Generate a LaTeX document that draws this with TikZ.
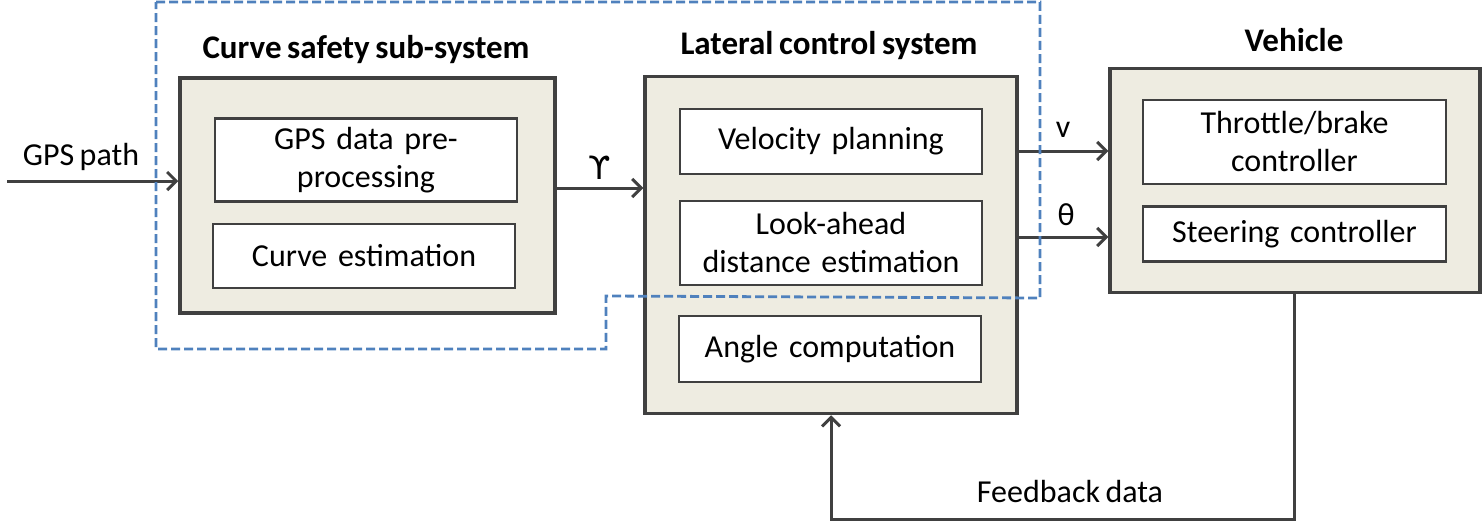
\documentclass[tikz,border=0pt]{standalone}
\usepackage{fontspec}
\setmainfont[WordSpace=0.75]{Carlito}
\newfontfamily\dejavu{DejaVu Sans}
\usetikzlibrary{arrows.meta}
\definecolor{linegray}{RGB}{64,64,64}
\definecolor{boxfill}{RGB}{238,236,225}
\definecolor{dashblue}{RGB}{79,129,189}
\begin{document}
\begin{tikzpicture}[x=1pt,y=-1pt,
  outerbox/.style={draw=linegray,line width=3.5pt,fill=boxfill,inner sep=0pt},
  innerbox/.style={draw=linegray,line width=2.2pt,fill=white,inner sep=0pt,
    text width=296pt,align=center,font=\fontsize{32}{38}\selectfont},
  title/.style={font=\fontsize{33}{38}\selectfont\bfseries,inner sep=0pt},
  lbl/.style={font=\fontsize{32}{38}\selectfont,inner sep=0pt},
  arr/.style={draw=linegray,line width=3pt,-{Straight Barb[length=9pt,width=18pt,line width=3pt]}},
  region/.style={draw=dashblue,line width=2.8pt,dash pattern=on 9pt off 4pt}]
\useasboundingbox (0,0) rectangle (1483,530);

% Curve safety sub-system
\node[outerbox,minimum width=375pt,minimum height=235pt] (cs) at (367.5,195.5) {};
\node[title] (cst) at (366,50) {Curve safety sub-system};
\node[innerbox,minimum width=302pt,minimum height=83pt] (gps) at (366,160) {GPS data pre-\\processing};
\node[innerbox,minimum width=302pt,minimum height=64pt] (ce) at (364,256) {Curve estimation};

% Lateral control system
\node[outerbox,minimum width=372pt,minimum height=337pt] (lat) at (831,245) {};
\node[title] (latt) at (829,46) {Lateral control system};
\node[innerbox,minimum width=302pt,minimum height=65pt] (vp) at (831,141.5) {Velocity planning};
\node[innerbox,minimum width=302pt,minimum height=84pt] (la) at (831,243) {Look-ahead\\distance estimation};
\node[innerbox,minimum width=302pt,minimum height=66pt] (ac) at (830,349) {Angle computation};

% Vehicle
\node[outerbox,minimum width=370pt,minimum height=224pt] (veh) at (1295,180.5) {};
\node[title] (veht) at (1294,40) {Vehicle};
\node[innerbox,minimum width=303pt,minimum height=84pt] (tb) at (1294.5,142) {Throttle/brake\\controller};
\node[innerbox,minimum width=303pt,minimum height=55pt] (sc) at (1294.5,234) {Steering controller};

% connectors
\coordinate (gpsin) at (7,181);
\draw[arr] (gpsin) -- (gpsin -| cs.west);
\node[lbl] (gpsl) at (81,157) {GPS path};

\coordinate (gy) at (0,188);
\draw[arr] (cs.east |- gy) -- (lat.west |- gy);
\node[lbl] (gyl) at (600,168) {\dejavu ϒ};

\coordinate (vy) at (0,151);
\draw[arr] (lat.east |- vy) -- (veh.west |- vy);
\node[lbl] (vl) at (1063,130) {v};

\coordinate (ty) at (0,237);
\draw[arr] (lat.east |- ty) -- (veh.west |- ty);
\node[lbl] (tl) at (1066,215) {θ};

\coordinate (fb) at (1294,519);
\draw[arr] (veh.south -| fb) -- (fb) -- (fb -| lat.south) -- (lat.south);
\node[lbl] (fbl) at (1070,492) {Feedback data};

% dashed region
\draw[region] (156,2) -- (1040,2) -- (1040,298) -- (606,296) -- (606,349) -- (156,349) -- cycle;
\end{tikzpicture}
\end{document}
